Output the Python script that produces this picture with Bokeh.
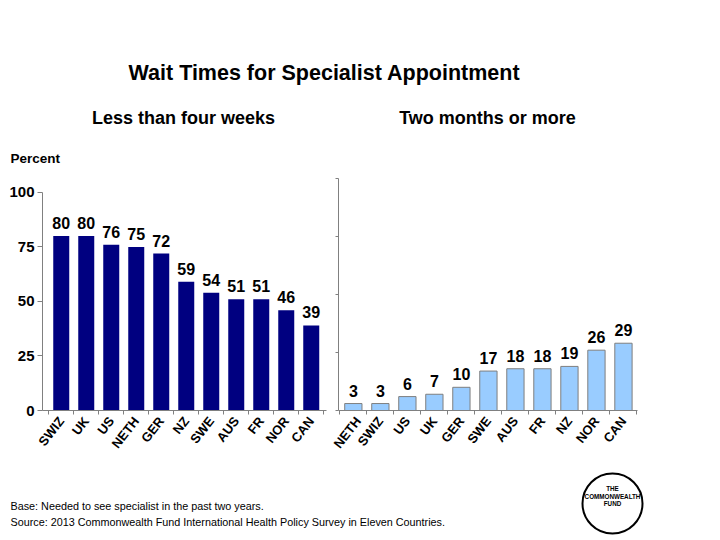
from math import radians
from bokeh.plotting import figure
from bokeh.layouts import column, row
from bokeh.models import ColumnDataSource, Range1d, FixedTicker
from bokeh.core.properties import value
from bokeh.embed import file_html
from bokeh.resources import INLINE

FONT = "Liberation Sans"

# data
left_countries = ["SWIZ", "UK", "US", "NETH", "GER", "NZ", "SWE", "AUS", "FR", "NOR", "CAN"]
left_values = [80, 80, 76, 75, 72, 59, 54, 51, 51, 46, 39]
right_countries = ["NETH", "SWIZ", "US", "UK", "GER", "SWE", "AUS", "FR", "NZ", "NOR", "CAN"]
right_values = [3, 3, 6, 7, 10, 17, 18, 18, 19, 26, 29]
y_ticks = [0, 25, 50, 75, 100]

TITLE = "Wait Times for Specialist Appointment"
LEFT_SUB = "Less than four weeks"
RIGHT_SUB = "Two months or more"
BASE_NOTE = "Base: Needed to see specialist in the past two years."
SOURCE_NOTE = "Source: 2013 Commonwealth Fund International Health Policy Survey in Eleven Countries."


def blank(width, height):
    # empty canvas where one data unit is one pixel, y going down
    p = figure(width=width, height=height, x_range=Range1d(0, width), y_range=Range1d(height, 0),
               x_axis_location=None, y_axis_location=None, min_border=0, title=None,
               output_backend="svg", toolbar_location=None)
    p.grid.visible = False
    p.outline_line_color = None
    return p


def bar_chart(countries, values, width, x_start, x_end, y_end, borders, fill, line):
    idx = list(range(len(countries)))
    src = ColumnDataSource(dict(x=idx, top=values, label=[str(v) for v in values]))
    left, right, top, bottom = borders
    p = figure(width=width, height=287, x_range=Range1d(x_start, x_end), y_range=Range1d(0, y_end),
               min_border_left=left, min_border_right=right, min_border_top=top, min_border_bottom=bottom,
               title=None, output_backend="svg", toolbar_location=None)
    p.grid.visible = False
    p.outline_line_color = None
    p.vbar(x="x", top="top", width=0.64, source=src, fill_color=fill, line_color=line, line_width=1)
    p.text(x="x", y="top", text="label", source=src, text_align="center", text_baseline="bottom",
           y_offset=-7, text_font=value(FONT), text_font_style="bold", text_font_size="16px", text_color="black")

    xa = p.xaxis[0]
    xa.ticker = FixedTicker(ticks=idx, minor_ticks=[i - 0.5 for i in range(len(countries) + 1)])
    xa.major_label_overrides = {i: c for i, c in zip(idx, countries)}
    xa.major_tick_out = 0
    xa.major_tick_in = 0
    xa.minor_tick_out = 4
    xa.minor_tick_in = 0
    xa.minor_tick_line_color = "#808080"
    xa.axis_line_color = "#808080"
    xa.major_label_orientation = radians(52)
    xa.major_label_standoff = 4
    xa.major_label_text_font = FONT
    xa.major_label_text_font_style = "bold"
    xa.major_label_text_font_size = "13px"
    xa.major_label_text_color = "black"

    ya = p.yaxis[0]
    ya.ticker = FixedTicker(ticks=y_ticks)
    ya.bounds = (0, 100)
    ya.axis_line_color = "#808080"
    ya.major_tick_line_color = "#808080"
    ya.minor_tick_out = 0
    ya.minor_tick_in = 0
    ya.major_tick_in = 0
    return p


# header
head = blank(720, 173)
head.text(x=[324], y=[72], text=[TITLE], text_align="center", text_baseline="middle",
          text_font=value(FONT), text_font_style="bold", text_font_size="21.5px", text_color="black")
head.text(x=[183, 487], y=[117, 117], text=[LEFT_SUB, RIGHT_SUB], text_align="center", text_baseline="middle",
          text_font=value(FONT), text_font_style="bold", text_font_size="18px", text_color="black")
head.text(x=[10], y=[158], text=["Percent"], text_align="left", text_baseline="middle",
          text_font=value(FONT), text_font_style="bold", text_font_size="13.5px", text_color="black")

# left chart: axis stops at 100, frame a bit taller
pl = bar_chart(left_countries, left_values, 330, -0.75, 10.61, 106.4, (42, 4, 5, 50), "#000080", None)
pl.yaxis.major_tick_out = 5
pl.yaxis.major_label_standoff = 3
pl.yaxis.major_label_text_font = FONT
pl.yaxis.major_label_text_font_style = "bold"
pl.yaxis.major_label_text_font_size = "15px"
pl.yaxis.major_label_text_color = "black"

# right chart, no tick labels
pr = bar_chart(right_countries, right_values, 390, -0.55, 10.52, 100, (8, 83, 5, 50), "#99ccff", "#7f7f7f")
pr.yaxis.major_tick_out = 3
pr.yaxis.major_label_standoff = 0
pr.yaxis.major_label_overrides = {t: "" for t in y_ticks}

# footer with notes and logo
foot = blank(720, 80)
foot.text(x=[10, 10], y=[45, 61], text=[BASE_NOTE, SOURCE_NOTE], text_align="left", text_baseline="middle",
          text_font=value(FONT), text_font_size="10.8px", text_color="black")
foot.circle(x=[612], y=[43], radius=30, fill_color="white", line_color="black", line_width=2)
foot.text(x=[612, 612, 612], y=[28, 36, 43], text=["THE", "COMMONWEALTH", "FUND"], text_align="center",
          text_baseline="middle", text_font=value(FONT), text_font_style="bold", text_font_size="6.3px",
          text_color="black")

page = column(head, row(pl, pr), foot)
open("out.html", "w").write(file_html(page, INLINE))
